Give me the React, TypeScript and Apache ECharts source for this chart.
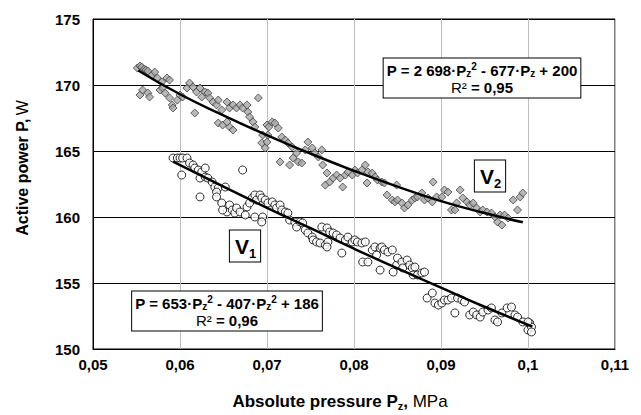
import React, { useEffect, useRef } from "react";
import * as echarts from "echarts";

// V2 measurements [Pz (MPa), P (W)]
const v2Points: [number, number][] = [
  [0.0551, 171.29], [0.0554, 171.44], [0.0556, 171.36], [0.0559, 171.21], [0.0561, 171.14], [0.0563, 171.06],
  [0.0554, 169.24], [0.0557, 169.62], [0.0563, 169.39], [0.0565, 169.09], [0.0568, 170.76], [0.0571, 170.98],
  [0.0577, 169.62], [0.0574, 170.53], [0.0579, 170.23], [0.0585, 170.53], [0.0588, 170.38], [0.058, 169.77],
  [0.0583, 169.39], [0.0588, 169.02], [0.0591, 168.49], [0.0592, 168.26], [0.0597, 168.86], [0.06, 169.24],
  [0.0603, 169.09], [0.0608, 169.77], [0.0611, 170.15], [0.0615, 169.85], [0.0617, 167.88], [0.0619, 169.47],
  [0.0623, 169.77], [0.0625, 169.09], [0.0629, 169.47], [0.0632, 169.39], [0.0634, 169.02], [0.0638, 168.71],
  [0.0642, 168.49], [0.0644, 168.86], [0.0648, 168.11], [0.0644, 167.12], [0.0649, 166.97], [0.0654, 168.71],
  [0.0657, 168.26], [0.0661, 168.49], [0.0665, 168.26], [0.0669, 168.49], [0.0672, 168.26], [0.0677, 168.49],
  [0.0678, 167.95], [0.068, 167.58], [0.069, 169.02], [0.0684, 167.2], [0.0686, 166.82], [0.0657, 166.82],
  [0.0661, 166.59], [0.0654, 167.2], [0.0695, 166.21], [0.07, 166.97], [0.0694, 165.61], [0.0698, 165.23],
  [0.0702, 166.82], [0.0706, 167.2], [0.0709, 167.12], [0.0713, 166.74], [0.07, 165.68], [0.0701, 166.21],
  [0.0717, 166.06], [0.0721, 165.83], [0.0724, 165.61], [0.0729, 165.3], [0.0715, 164.17], [0.0726, 163.94],
  [0.073, 164.47], [0.0734, 164.85], [0.0736, 164.17], [0.074, 164.09], [0.0744, 165.08], [0.0747, 165.68],
  [0.0752, 165.23], [0.0755, 164.85], [0.0759, 164.55], [0.0763, 165.08], [0.0764, 163.94], [0.0769, 163.33],
  [0.0767, 162.42], [0.0772, 162.65], [0.0776, 162.95], [0.078, 163.18], [0.0784, 162.95], [0.0787, 162.27],
  [0.079, 163.18], [0.0793, 163.41], [0.0798, 163.18], [0.0801, 163.56], [0.0804, 163.33], [0.0809, 163.56],
  [0.0813, 163.94], [0.0815, 162.58], [0.0816, 163.41], [0.0821, 163.33], [0.0824, 163.03], [0.0827, 162.8],
  [0.0832, 162.65], [0.0835, 162.58], [0.0838, 161.67], [0.0844, 161.29], [0.0847, 161.14], [0.0849, 162.42],
  [0.085, 161.29], [0.0855, 161.06], [0.0858, 160.68], [0.0862, 160.91], [0.0867, 161.29], [0.087, 161.44],
  [0.0873, 161.52], [0.0878, 161.82], [0.0881, 161.29], [0.0885, 161.44], [0.089, 161.14], [0.0891, 162.65],
  [0.0895, 161.52], [0.0901, 161.52], [0.0904, 162.05], [0.0908, 161.89], [0.0912, 160.53], [0.0916, 160.53],
  [0.0918, 161.06], [0.0922, 162.05], [0.0925, 161.44], [0.093, 161.14], [0.0933, 160.91], [0.0937, 161.06],
  [0.0941, 160.68], [0.0945, 160.38], [0.0948, 160.53], [0.0953, 160.38], [0.0958, 160.3], [0.0962, 160.0],
  [0.0965, 159.62], [0.097, 159.39], [0.0968, 160.15], [0.0973, 160.15], [0.0977, 159.92], [0.0983, 161.29],
  [0.0988, 160.53], [0.0991, 161.52], [0.0994, 161.82],
];

// V1 measurements [Pz (MPa), P (W)]
const v1Points: [number, number][] = [
  [0.0592, 164.47], [0.0597, 164.47], [0.06, 164.47], [0.0603, 164.47], [0.0608, 164.47], [0.0602, 163.18],
  [0.0611, 164.09], [0.0615, 163.94], [0.0617, 163.71], [0.0621, 163.56], [0.0625, 163.41], [0.0629, 163.71],
  [0.0623, 162.95], [0.0629, 163.03], [0.0632, 162.95], [0.0637, 162.65], [0.064, 162.27], [0.0644, 162.2],
  [0.0642, 161.89], [0.0642, 161.52], [0.0623, 161.52], [0.0648, 161.06], [0.0652, 162.27], [0.0654, 160.38],
  [0.0657, 160.91], [0.0649, 160.53], [0.066, 160.53], [0.0663, 160.3], [0.0665, 160.68], [0.0669, 160.38],
  [0.0672, 163.56], [0.0677, 160.76], [0.0675, 160.15], [0.068, 161.06], [0.0683, 161.44], [0.0686, 161.67],
  [0.0688, 161.29], [0.0692, 161.67], [0.0694, 161.44], [0.0686, 160.0], [0.0695, 160.0], [0.0694, 159.62],
  [0.0698, 161.29], [0.0701, 161.06], [0.0706, 161.14], [0.0709, 160.91], [0.0711, 160.68], [0.0715, 160.91],
  [0.0717, 160.53], [0.0721, 160.38], [0.0724, 160.3], [0.0726, 159.77], [0.0732, 159.62], [0.0734, 159.24],
  [0.0738, 159.62], [0.0741, 159.55], [0.0744, 159.02], [0.0747, 158.79], [0.0752, 158.48], [0.0753, 158.26],
  [0.0757, 158.11], [0.0761, 158.03], [0.0763, 159.24], [0.0769, 159.17], [0.0767, 157.88], [0.077, 158.11],
  [0.0769, 157.73], [0.0772, 158.86], [0.0776, 158.79], [0.078, 158.64], [0.0784, 158.41], [0.0786, 157.27],
  [0.079, 158.26], [0.0793, 158.48], [0.0798, 158.11], [0.0801, 158.26], [0.0804, 158.11], [0.0809, 158.03],
  [0.0813, 158.11], [0.081, 156.59], [0.0816, 156.59], [0.0821, 157.5], [0.0824, 157.73], [0.0826, 157.12],
  [0.083, 157.65], [0.0832, 157.73], [0.0835, 157.5], [0.0839, 157.35], [0.0844, 157.5], [0.083, 155.98],
  [0.0845, 155.83], [0.0849, 156.36], [0.085, 156.89], [0.0855, 156.59], [0.0856, 156.14], [0.0861, 156.74],
  [0.0864, 156.36], [0.0867, 156.14], [0.087, 156.21], [0.0868, 155.61], [0.0873, 155.61], [0.0878, 155.76],
  [0.0881, 155.83], [0.0884, 153.86], [0.089, 154.24], [0.0893, 153.48], [0.0897, 153.33], [0.0901, 153.48],
  [0.0904, 153.71], [0.0908, 153.71], [0.0912, 153.86], [0.0916, 152.73], [0.0919, 153.86], [0.0924, 153.71],
  [0.0927, 153.56], [0.0933, 152.58], [0.0937, 152.8], [0.0941, 152.58], [0.0945, 152.42], [0.0948, 152.8],
  [0.0954, 152.95], [0.0958, 153.11], [0.0962, 152.2], [0.0965, 152.05], [0.097, 152.73], [0.0976, 153.11],
  [0.0981, 153.18], [0.0985, 152.58], [0.0988, 152.42], [0.0994, 152.05], [0.1, 151.44], [0.1002, 151.97],
  [0.1004, 151.67], [0.1, 152.05], [0.1004, 151.29],
];

// Trend lines
const trendV2: [number, number][] = [
  [0.0552, 171.1], [0.06, 169.3], [0.065, 167.7], [0.07, 166.2], [0.075, 164.8],
  [0.08, 163.5], [0.085, 162.3], [0.09, 161.2], [0.095, 160.3], [0.0994, 159.6],
];
const trendV1: [number, number][] = [
  [0.0592, 164.2], [0.065, 162.3], [0.07, 160.7], [0.075, 159.15], [0.08, 157.6],
  [0.085, 156.1], [0.09, 154.65], [0.095, 153.2], [0.1005, 151.7],
];

const xMin = 0.05, xMax = 0.11, xStep = 0.01;
const yMin = 150, yMax = 175, yStep = 5;

const eqV2 = "{b|P = 2 698·P}{sub|z}{sup|2}{b| - 677·P}{sub|z}{b| + 200}\n{n|R²}{b| = 0,95}";
const eqV1 = "{b|P = 653·P}{sub|z}{sup|2}{b| - 407·P}{sub|z}{sup|2}{b| + 186}\n{n|R²}{b| = 0,96}";
const yTitle = "{b|Active power P,} {n|W}";
const xTitle = "{b|Absolute pressure P}{sub|z}{b|, }{n|MPa}";

const FONT = "Liberation Sans, Arial, sans-serif";

const eqRich = {
  b: { fontFamily: FONT, fontWeight: "bold", fontSize: 15, lineHeight: 17, fill: "#000" },
  n: { fontFamily: FONT, fontWeight: "normal", fontSize: 15, lineHeight: 17, fill: "#000" },
  sub: { fontFamily: FONT, fontWeight: "bold", fontSize: 10, lineHeight: 9, verticalAlign: "bottom", fill: "#000" },
  sup: { fontFamily: FONT, fontWeight: "bold", fontSize: 10, lineHeight: 10, verticalAlign: "top", fill: "#000" },
};

const vRich = {
  v: { fontFamily: FONT, fontWeight: "bold", fontSize: 21, lineHeight: 26, fill: "#000" },
  s: { fontFamily: FONT, fontWeight: "bold", fontSize: 13, lineHeight: 12, verticalAlign: "bottom", fill: "#000" },
};

export default function App() {
  const ref = useRef<HTMLDivElement>(null);
  useEffect(() => {
    if (!ref.current) return;
    const chart = echarts.init(ref.current, undefined, { renderer: "svg" });
    const fmt = (v: number) => String(+v.toFixed(2)).replace(".", ",");
    chart.setOption({
      animation: false,
      backgroundColor: "#fff",
      grid: { left: 93, top: 19, width: 522, height: 330, show: true, borderColor: "#000", borderWidth: 1, backgroundColor: "transparent" },
      xAxis: {
        type: "value", min: xMin, max: xMax, interval: xStep,
        axisLine: { show: true, lineStyle: { color: "#000" } },
        axisTick: { show: false },
        axisLabel: { formatter: fmt, fontFamily: FONT, fontWeight: "bold", fontSize: 15, color: "#000", margin: 8 },
        splitLine: { show: true, lineStyle: { color: "#bfbfbf", width: 1 } },
      },
      yAxis: {
        type: "value", min: yMin, max: yMax, interval: yStep,
        axisLine: { show: true, lineStyle: { color: "#000" } },
        axisTick: { show: false },
        axisLabel: { fontFamily: FONT, fontWeight: "bold", fontSize: 15, color: "#000", margin: 13 },
        splitLine: { show: true, lineStyle: { color: "#000", width: 1 } },
      },
      series: [
        {
          type: "scatter", name: "V2", data: v2Points, symbol: "diamond", symbolSize: 8,
          itemStyle: { color: "#a6a6a6", borderColor: "#404040", borderWidth: 1 }, z: 2,
        },
        {
          type: "scatter", name: "V1", data: v1Points, symbol: "circle", symbolSize: 8,
          itemStyle: { color: "#fff", borderColor: "#000", borderWidth: 1 }, z: 2,
        },
        {
          type: "line", data: trendV2, smooth: true, symbol: "none",
          lineStyle: { color: "#000", width: 2.5 }, z: 3,
        },
        {
          type: "line", data: trendV1, smooth: true, symbol: "none",
          lineStyle: { color: "#000", width: 2.5 }, z: 3,
        },
      ],
      graphic: [
        {
          type: "text", x: 22, y: 168, rotation: Math.PI / 2, z: 10,
          style: {
            text: yTitle, align: "center", verticalAlign: "middle",
            rich: {
              b: { fontFamily: FONT, fontWeight: "bold", fontSize: 16, fill: "#000" },
              n: { fontFamily: FONT, fontWeight: "normal", fontSize: 16, fill: "#000" },
            },
          },
        },
        {
          type: "text", x: 340, y: 401, z: 10,
          style: {
            text: xTitle, align: "center", verticalAlign: "middle",
            rich: {
              b: { fontFamily: FONT, fontWeight: "bold", fontSize: 17, lineHeight: 20, fill: "#000" },
              n: { fontFamily: FONT, fontWeight: "normal", fontSize: 17, lineHeight: 20, fill: "#000" },
              sub: { fontFamily: FONT, fontWeight: "bold", fontSize: 11, lineHeight: 10, verticalAlign: "bottom", fill: "#000" },
            },
          },
        },
        {
          type: "text", x: 482, y: 78, z: 10,
          style: {
            text: eqV2, align: "center", verticalAlign: "middle",
            backgroundColor: "#fff", borderColor: "#000", borderWidth: 1, padding: [3, 3, 2, 3],
            rich: eqRich,
          },
        },
        {
          type: "text", x: 227, y: 311, z: 10,
          style: {
            text: eqV1, align: "center", verticalAlign: "middle",
            backgroundColor: "#fff", borderColor: "#000", borderWidth: 1, padding: [3, 3, 2, 3],
            rich: eqRich,
          },
        },
        {
          type: "text", x: 490, y: 176, z: 10,
          style: { text: "{v|V}{s|2}", align: "center", verticalAlign: "middle", backgroundColor: "#fff", borderColor: "#000", borderWidth: 1, padding: [3, 4, 2, 5], rich: vRich },
        },
        {
          type: "text", x: 245, y: 246, z: 10,
          style: { text: "{v|V}{s|1}", align: "center", verticalAlign: "middle", backgroundColor: "#fff", borderColor: "#000", borderWidth: 1, padding: [3, 4, 2, 5], rich: vRich },
        },
      ],
    });
    return () => chart.dispose();
  }, []);
  return <div ref={ref} style={{ position: "absolute", left: 0, top: 0, width: 641, height: 415 }} />;
}
